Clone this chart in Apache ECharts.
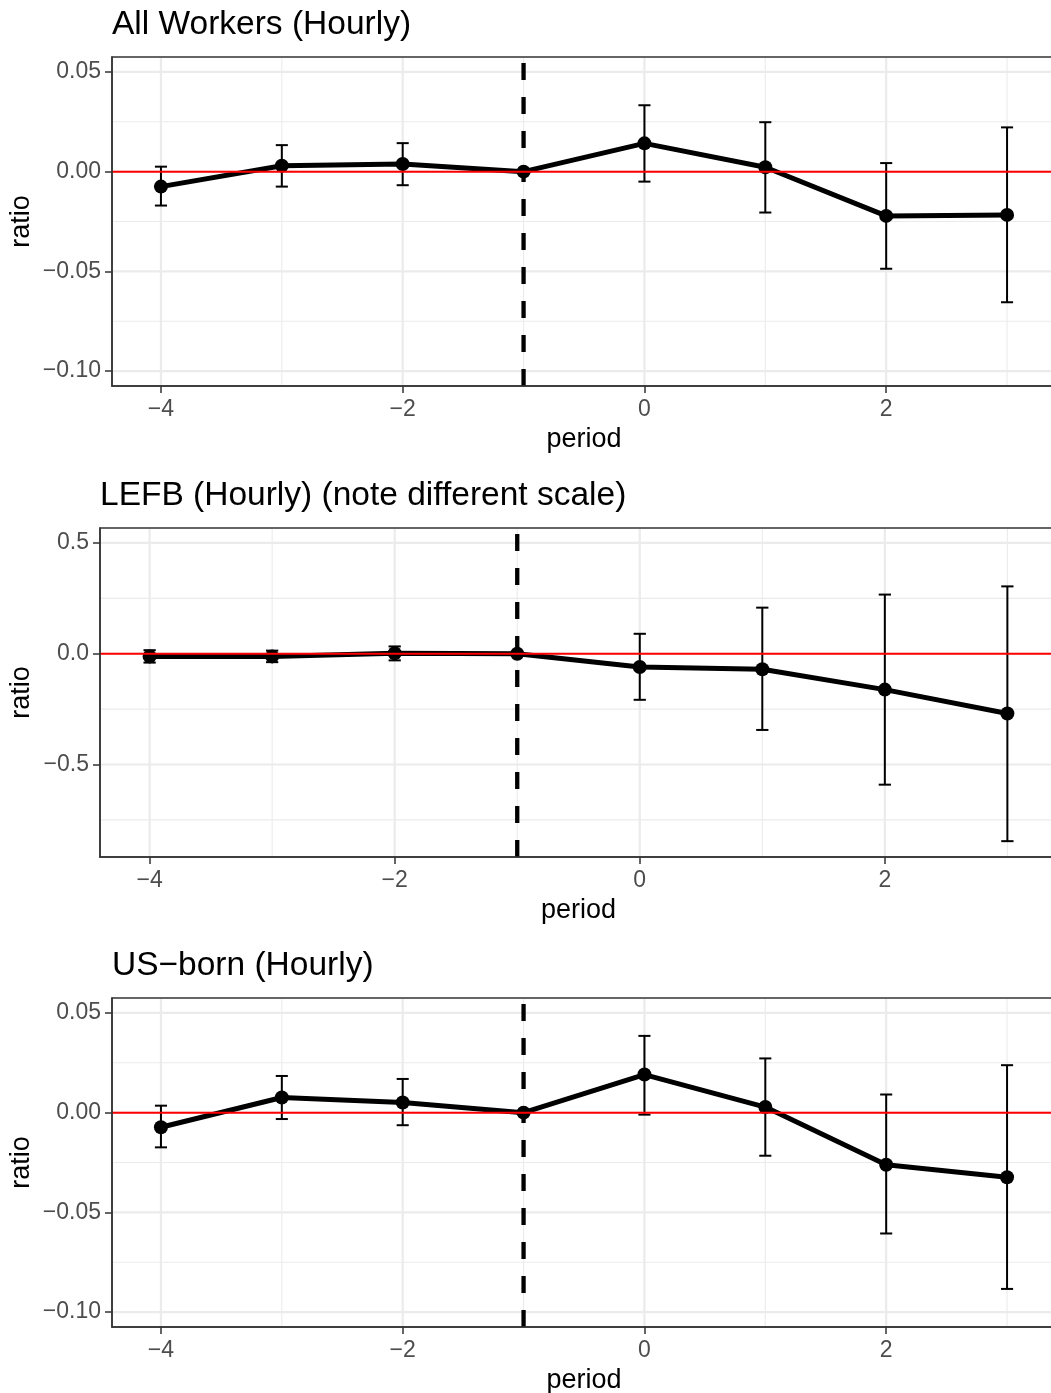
<!DOCTYPE html>
<html>
<head>
<meta charset="utf-8">
<title>Event-study estimates: hourly wage ratio</title>
<script src="https://cdn.jsdelivr.net/npm/echarts@6/dist/echarts.min.js"></script>
<style>
  html, body { margin: 0; padding: 0; background: #ffffff; }
  #chart { width: 1051px; height: 1393px; }
</style>
</head>
<body>
<div id="chart"></div>
<script>
// ---- data -------------------------------------------------------------
const periods = [-4, -3, -2, -1, 0, 1, 2, 3];

// All Workers (Hourly)
const allEst = [-0.0075, 0.0030, 0.0038, 0, 0.0142, 0.0022, -0.0222, -0.0217];
const allLo  = [-0.0170, -0.0075, -0.0068, 0, -0.0050, -0.0205, -0.0487, -0.0655];
const allHi  = [0.0025, 0.0133, 0.0143, 0, 0.0333, 0.0248, 0.0043, 0.0222];

// LEFB (Hourly)
const lefbEst = [-0.012, -0.012, 0.002, 0, -0.060, -0.070, -0.162, -0.270];
const lefbLo  = [-0.040, -0.038, -0.030, 0, -0.208, -0.344, -0.591, -0.846];
const lefbHi  = [0.016, 0.014, 0.033, 0, 0.090, 0.208, 0.267, 0.304];

// US-born (Hourly)
const usEst = [-0.0073, 0.0076, 0.0051, 0, 0.0191, 0.0028, -0.0261, -0.0324];
const usLo  = [-0.0174, -0.0032, -0.0063, 0, -0.0010, -0.0216, -0.0606, -0.0884];
const usHi  = [0.0035, 0.0184, 0.0169, 0, 0.0385, 0.0272, 0.0091, 0.0238];

const panelTitles = ['All Workers (Hourly)', 'LEFB (Hourly) (note different scale)', 'US\u2212born (Hourly)'];

// axis breaks
const xMajor = [-4, -2, 0, 2];
const xMinor = [-3, -1, 1, 3];
const yMajorSmall = [-0.10, -0.05, 0, 0.05];
const yMinorSmall = [-0.075, -0.025, 0.025];
const yMajorWide = [-0.5, 0, 0.5];
const yMinorWide = [-0.75, -0.25, 0.25];

// axis limits (with the usual 5% padding)
const xLimits = [-4.405, 3.405];
const yLimitsSmall = [-0.1075, 0.0575];
const yLimitsWide = [-0.9175, 0.5675];

const refValue = 0;       // horizontal reference line
const eventPeriod = -1;   // dashed vertical marker
const capHalfWidth = 0.05;

// ---- styling ----------------------------------------------------------
const FONT = '"Liberation Sans", Arial, Helvetica, sans-serif';
const INK = '#000000';
const FRAME = '#333333';
const TICKTXT = '#4D4D4D';
const GRIDCOL = '#EBEBEB';

const minus = s => s.replace(/-/g, '\u2212');
const fmt = d => v => minus((Math.abs(v) < 1e-12 ? 0 : v).toFixed(d));

const panels = [
  { est: allEst, lo: allLo, hi: allHi, yLim: yLimitsSmall, yMaj: yMajorSmall, yMin: yMinorSmall, dec: 2,
    grid: { left: 112, top: 57, width: 944, height: 329 }, titleLeft: 112, titleTop: 8, yGap: 77 },
  { est: lefbEst, lo: lefbLo, hi: lefbHi, yLim: yLimitsWide, yMaj: yMajorWide, yMin: yMinorWide, dec: 1,
    grid: { left: 100, top: 528, width: 957, height: 329 }, titleLeft: 100, titleTop: 479, yGap: 65 },
  { est: usEst, lo: usLo, hi: usHi, yLim: yLimitsSmall, yMaj: yMajorSmall, yMin: yMinorSmall, dec: 2,
    grid: { left: 112, top: 998, width: 944, height: 329 }, titleLeft: 112, titleTop: 949, yGap: 77 }
];

const grids = [], xAxes = [], yAxes = [], titles = [], series = [];

panels.forEach((p, i) => {
  grids.push(Object.assign({
    show: true, z: 10, backgroundColor: 'transparent',
    borderColor: FRAME, borderWidth: 1.5, containLabel: false, outerBoundsMode: 'none'
  }, p.grid));

  titles.push({
    text: panelTitles[i], left: p.titleLeft, top: p.titleTop, padding: 0,
    textStyle: { fontFamily: FONT, fontSize: 33.5, fontWeight: 'normal', color: INK }
  });

  xAxes.push({
    type: 'value', gridIndex: i, min: xLimits[0], max: xLimits[1],
    axisLine: { show: true, onZero: false, lineStyle: { color: FRAME, width: 1.5 } },
    axisTick: { show: true, customValues: xMajor, length: 7, lineStyle: { color: FRAME, width: 1.5 } },
    axisLabel: { customValues: xMajor, margin: 12, color: TICKTXT, fontFamily: FONT, fontSize: 23, formatter: fmt(0) },
    splitLine: { show: false },
    name: 'period', nameLocation: 'middle', nameGap: 40, nameMoveOverlap: false,
    nameTextStyle: { fontFamily: FONT, fontSize: 27, color: INK, verticalAlign: 'top' }
  });

  yAxes.push({
    type: 'value', gridIndex: i, min: p.yLim[0], max: p.yLim[1],
    axisLine: { show: true, onZero: false, lineStyle: { color: FRAME, width: 1.5 } },
    axisTick: { show: true, customValues: p.yMaj, length: 7, lineStyle: { color: FRAME, width: 1.5 } },
    axisLabel: { customValues: p.yMaj, margin: 11, color: TICKTXT, fontFamily: FONT, fontSize: 23, formatter: fmt(p.dec) },
    splitLine: { show: false },
    name: 'ratio', nameLocation: 'middle', nameRotate: 90, nameGap: p.yGap, nameMoveOverlap: false,
    nameTextStyle: { fontFamily: FONT, fontSize: 27, color: INK }
  });

  // panel gridlines: [orientation (0 = horizontal, 1 = vertical), value, major flag]
  const gridData = []
    .concat(p.yMin.map(v => [0, v, 0]))
    .concat(xMinor.map(v => [1, v, 0]))
    .concat(p.yMaj.map(v => [0, v, 1]))
    .concat(xMajor.map(v => [1, v, 1]));

  series.push({
    type: 'custom', xAxisIndex: i, yAxisIndex: i, silent: true, z: 1,
    data: gridData,
    encode: { x: 1, y: 1 },
    renderItem: (params, api) => {
      const cs = params.coordSys;
      const orient = api.value(0), v = api.value(1), major = api.value(2);
      const style = { stroke: GRIDCOL, lineWidth: major ? 2.2 : 1.1 };
      if (orient === 0) {
        const y = api.coord([0, v])[1];
        return { type: 'line', shape: { x1: cs.x + 1, y1: y, x2: cs.x + cs.width, y2: y }, style };
      }
      const x = api.coord([v, 0])[0];
      return { type: 'line', shape: { x1: x, y1: cs.y + 1, x2: x, y2: cs.y + cs.height - 1 }, style };
    }
  });

  // dashed marker at the event period
  series.push({
    type: 'custom', xAxisIndex: i, yAxisIndex: i, silent: true, z: 2,
    data: [[eventPeriod, 0]],
    renderItem: (params, api) => {
      const cs = params.coordSys;
      const x = api.coord([api.value(0), 0])[0];
      return { type: 'line', shape: { x1: x, y1: cs.y + cs.height, x2: x, y2: cs.y },
        style: { stroke: INK, lineWidth: 4.3, lineDash: [17, 17] } };
    }
  });

  // estimates
  series.push({
    type: 'line', xAxisIndex: i, yAxisIndex: i, silent: true, z: 3,
    data: periods.map((x, k) => [x, p.est[k]]),
    symbol: 'circle', symbolSize: 14, showSymbol: true,
    lineStyle: { color: INK, width: 5, join: 'round' },
    itemStyle: { color: INK }
  });

  // confidence intervals
  series.push({
    type: 'custom', xAxisIndex: i, yAxisIndex: i, silent: true, z: 4,
    data: periods.map((x, k) => [x, p.lo[k], p.hi[k]]),
    encode: { x: 0, y: [1, 2] },
    renderItem: (params, api) => {
      const x = api.value(0), lo = api.value(1), hi = api.value(2);
      const top = api.coord([x, hi]), bot = api.coord([x, lo]);
      const l = api.coord([x - capHalfWidth, hi])[0], r = api.coord([x + capHalfWidth, hi])[0];
      const style = { stroke: INK, lineWidth: 2 };
      return { type: 'group', children: [
        { type: 'line', shape: { x1: top[0], y1: top[1], x2: bot[0], y2: bot[1] }, style },
        { type: 'line', shape: { x1: l, y1: top[1], x2: r, y2: top[1] }, style },
        { type: 'line', shape: { x1: l, y1: bot[1], x2: r, y2: bot[1] }, style }
      ] };
    }
  });

  // red reference line
  series.push({
    type: 'custom', xAxisIndex: i, yAxisIndex: i, silent: true, z: 5,
    data: [[0, refValue]],
    renderItem: (params, api) => {
      const cs = params.coordSys;
      const y = api.coord([0, api.value(1)])[1];
      return { type: 'line', shape: { x1: cs.x, y1: y, x2: cs.x + cs.width, y2: y },
        style: { stroke: '#FF0000', lineWidth: 2 } };
    }
  });
});

const chart = echarts.init(document.getElementById('chart'), null, { renderer: 'canvas' });
chart.setOption({
  animation: false,
  backgroundColor: '#ffffff',
  title: titles,
  grid: grids,
  xAxis: xAxes,
  yAxis: yAxes,
  series: series
});
</script>
</body>
</html>
